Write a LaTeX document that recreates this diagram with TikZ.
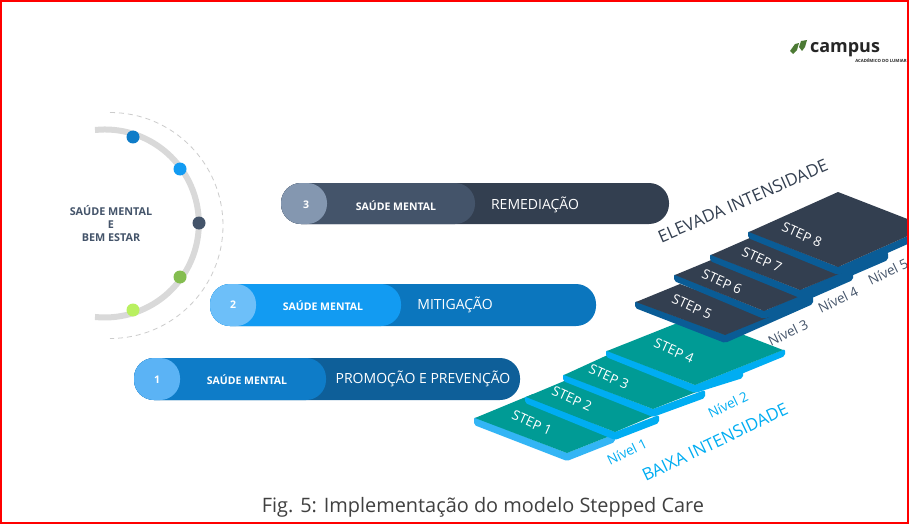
\documentclass[tikz,border=0pt]{standalone}
\usepackage{fontspec}
\setmainfont{Open Sans}
\definecolor{slatedark}{HTML}{333F50}
\definecolor{slatemid}{HTML}{44546A}
\definecolor{slatelight}{HTML}{8497B0}
\definecolor{bluedeep}{HTML}{0E5F99}
\definecolor{bluemid}{HTML}{0B76BE}
\definecolor{bluebright}{HTML}{129BF2}
\definecolor{bluesoft}{HTML}{6DBFF9}
\definecolor{bluesofter}{HTML}{5BB3F5}
\definecolor{bluestep}{HTML}{0E7CC8}
\definecolor{teal}{HTML}{009B95}
\definecolor{cyanband}{HTML}{00ADF2}
\definecolor{cyanlight}{HTML}{33B5F5}
\definecolor{navyband}{HTML}{0A5C96}
\definecolor{leaf}{HTML}{4C7A34}
\definecolor{dotgreen}{HTML}{84BD50}
\definecolor{dotlime}{HTML}{B9F060}
\usetikzlibrary{positioning}

\begin{document}
\begin{tikzpicture}[x=1pt, y=-1pt]

% Styles
\tikzset{
  pillouter/.style={rounded corners=20pt},
  pillinner/.style={rounded corners=20pt},
  pilltitle/.style={font=\fontsize{10.5}{12}\selectfont\bfseries, text=white},
  pilltext/.style={font=\fontsize{14}{16}\selectfont, text=white},
  pillnum/.style={font=\fontsize{10.5}{12}\selectfont\bfseries, text=white},
  toplabel/.style={font=\fontsize{13.5}{15}\selectfont, text=white, rotate=-24},
  levellabel/.style={font=\fontsize{13.5}{15}\selectfont, rotate=26},
  bandtitle/.style={font=\fontsize{17}{19}\selectfont, rotate=23.5},
  dot/.style={circle, minimum size=13pt, inner sep=0pt}
}

\useasboundingbox (0,0) rectangle (910,524);
\fill[white] (0,0) rectangle (910,524);

% Arc with dots
\draw[line width=0.8pt, dash pattern=on 5pt off 4pt, black!20] (110,112.5) arc[start angle=-90, end angle=90, radius=113];
\draw[line width=6pt, black!15] (95,130) arc[start angle=-96, end angle=96, radius=94];
\node[dot, fill=bluestep] (dota) at (133,137) {};
\node[dot, fill=bluebright] (dotb) at (180,169) {};
\node[dot, fill=slatemid] (dotc) at (199,223) {};
\node[dot, fill=dotgreen] (dotd) at (180,277) {};
\node[dot, fill=dotlime] (dote) at (133,310) {};
\node[font=\fontsize{10.8}{13}\selectfont\bfseries, text=slatemid, align=center] (health) at (111,224) {SAÚDE MENTAL\\E\\BEM ESTAR};

% Pill 3
\fill[slatedark, pillouter] (281,183) rectangle (669,224);
\fill[slatemid, pillinner] (281,183) rectangle (475,224);
\fill[slatelight, pillinner] (281,183) rectangle (327,224);
\node[pillnum] (numc) at (306,205) {3};
\node[pilltitle] (titlec) at (396,206) {SAÚDE MENTAL};
\node[pilltext] (textc) at (535,205) {REMEDIAÇÃO};

% Pill 2
\fill[bluemid, pillouter] (210,284) rectangle (596,326);
\fill[bluebright, pillinner] (210,284) rectangle (401,326);
\fill[bluesoft, pillinner] (210,284) rectangle (256,326);
\node[pillnum] (numb) at (233,305) {2};
\node[pilltitle] (titleb) at (323,306) {SAÚDE MENTAL};
\node[pilltext] (textb) at (455,305) {MITIGAÇÃO};

% Pill 1
\fill[bluedeep, pillouter] (134,358) rectangle (520,400);
\fill[bluestep, pillinner] (134,358) rectangle (326,400);
\fill[bluesofter, pillinner] (134,358) rectangle (180,400);
\node[pillnum] (numa) at (157,380) {1};
\node[pilltitle] (titlea) at (247,380) {SAÚDE MENTAL};
\node[pilltext] (texta) at (423,379) {PROMOÇÃO E PREVENÇÃO};

% Steps, front to back
\begin{scope}
\clip (0,0) rectangle (908,524);
\fill[cyanlight, rounded corners=2pt] (474,417) -- (567,453) -- (615,434) -- (615,442) -- (567,461) -- (474,425) -- cycle;
\fill[teal] (475,418) -- (533,394) -- (615,434) -- (567,453) -- cycle;
\fill[cyanband, rounded corners=2pt] (525,396) -- (615,432) -- (659,415) -- (659,423) -- (615,440) -- (525,403) -- cycle;
\fill[teal] (526,397) -- (569,379) -- (655,415) -- (615,432) -- cycle;
\fill[cyanband, rounded corners=2pt] (563,374) -- (653,409) -- (705,390) -- (705,398) -- (653,417) -- (563,381) -- cycle;
\fill[teal] (564,375) -- (612,353) -- (699,391) -- (653,409) -- cycle;
\fill[cyanband, rounded corners=2pt] (695,385) -- (743,369) -- (743,378) -- (695,393) -- cycle;
\fill[cyanband, rounded corners=2pt] (606,350) -- (695,385) -- (785,349) -- (785,356) -- (695,393) -- (606,357) -- cycle;
\fill[teal] (607,351) -- (695,316) -- (783,350) -- (695,385) -- cycle;

\fill[navyband, rounded corners=2pt] (635,301) -- (725,335) -- (813,296) -- (813,304) -- (725,343) -- (635,308) -- cycle;
\fill[slatedark] (636,302) -- (680,284) -- (769,317) -- (725,335) -- cycle;
\fill[navyband, rounded corners=2pt] (674,274) -- (764,311) -- (853,272) -- (853,280) -- (764,319) -- (674,281) -- cycle;
\fill[slatedark] (675,275) -- (716,258) -- (805,294) -- (764,311) -- cycle;
\fill[navyband, rounded corners=2pt] (710,254) -- (800,290) -- (888,252) -- (888,260) -- (800,298) -- (710,261) -- cycle;
\fill[slatedark] (711,255) -- (752,237) -- (841,273) -- (800,290) -- cycle;
\fill[navyband, rounded corners=2pt] (748,231) -- (838,267) -- (928,227) -- (928,235) -- (838,275) -- (748,238) -- cycle;
\fill[slatedark] (749,232) -- (838,192) -- (928,227) -- (838,267) -- cycle;
\end{scope}

% Step labels
\node[toplabel] (stepa) at (532,423) {STEP 1};
\node[toplabel] (stepb) at (572,399) {STEP 2};
\node[toplabel] (stepc) at (609,377) {STEP 3};
\node[toplabel] (stepd) at (674,351) {STEP 4};
\node[toplabel] (stepe) at (692,307) {STEP 5};
\node[toplabel] (stepf) at (722,282) {STEP 6};
\node[toplabel] (stepg) at (762,260) {STEP 7};
\node[toplabel] (steph) at (802,235) {STEP 8};

% Level labels
\node[levellabel, text=cyanband] (levela) at (627,452) {Nível 1};
\node[levellabel, text=cyanband] (levelb) at (728,405) {Nível 2};
\node[levellabel, text=slatemid] (levelc) at (788,333) {Nível 3};
\node[levellabel, text=slatemid] (leveld) at (838,300) {Nível 4};
\node[levellabel, text=slatemid] (levele) at (888,272) {Nível 5};

\node[bandtitle, text=slatedark] (high) at (743,201) {ELEVADA INTENSIDADE};
\node[bandtitle, text=cyanband, rotate=2] (low) at (715,442) {BAIXA INTENSIDADE};

% Caption
\node[font=\fontsize{19.9}{22}\selectfont, text=black!75] (caption) at (483,507) {Fig. 5: Implementação do modelo Stepped Care};

% Logo
\fill[leaf] (790,51) -- (795,44) -- (799,43) -- (797,50) -- (793,54) -- cycle;
\fill[leaf] (799,47) -- (801,41) -- (807,40) -- (805,47) -- (802,51) -- cycle;
\node[font=\fontsize{18}{20}\selectfont\bfseries, text=black!85] (logo) at (845,50) {campus};
\node[font=\fontsize{4.3}{5}\selectfont\bfseries, text=black!85] (logosub) at (881,60.5) {ACADÉMICO DO LUMIAR};

% Frame
\draw[red, line width=2pt] (1,1) rectangle (908,523);

\end{tikzpicture}
\end{document}
